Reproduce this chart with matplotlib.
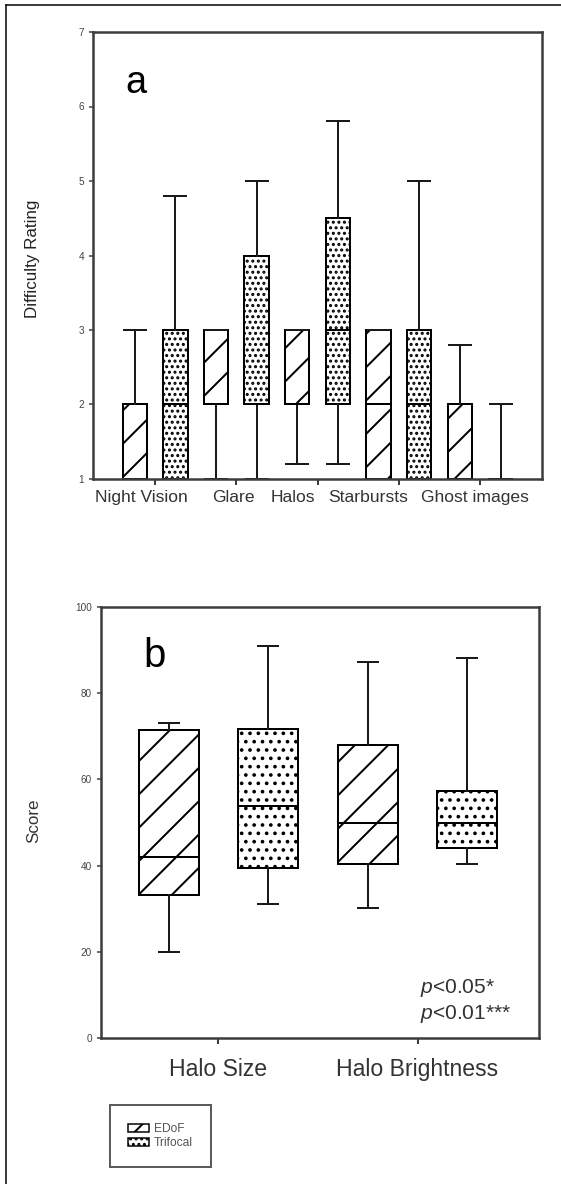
import numpy as np
import matplotlib
matplotlib.use("Agg")
import matplotlib.pyplot as plt
from matplotlib.patches import Patch
from matplotlib.lines import Line2D

W, H = 561, 1184
DPI = 100


def pt(px):
    # sizes below are measured in pixels of the reference
    return px * 72.0 / DPI


plt.rcParams['font.family'] = ['Liberation Sans', 'DejaVu Sans']
plt.rcParams['mathtext.fontset'] = 'custom'
plt.rcParams['mathtext.rm'] = 'Liberation Sans'
plt.rcParams['mathtext.it'] = 'Liberation Sans:italic'
plt.rcParams['hatch.linewidth'] = pt(2.0)

groups = ["EDoF", "Trifocal"]

# panel a - difficulty rating (1-7)
symptoms = ["Night Vision", "Glare", "Halos", "Starbursts", "Ghost images"]
edof_q1 = [1, 2, 2, 1, 1]
edof_med = [1, 2, 2, 2, 1]
edof_q3 = [2, 3, 3, 3, 2]
edof_lo = [1, 1, 1.2, 1, 1]
edof_hi = [3, 3, 3, 3, 2.8]
tri_q1 = [1, 2, 2, 1, 1]
tri_med = [2, 2, 3, 2, 1]
tri_q3 = [3, 4, 4.5, 3, 1]
tri_lo = [1, 1, 1.2, 1, 1]
tri_hi = [4.8, 5, 5.8, 5, 2]

# panel b - halo score (0-100)
halo_cats = ["Halo Size", "Halo Brightness"]
b_edof_q1 = [33.2, 40.4]
b_edof_med = [42.1, 50]
b_edof_q3 = [71.4, 68]
b_edof_lo = [20, 30.1]
b_edof_hi = [73.2, 87.2]
b_tri_q1 = [39.5, 44]
b_tri_med = [53.9, 50]
b_tri_q3 = [71.6, 57.2]
b_tri_lo = [31, 40.4]
b_tri_hi = [90.9, 88.1]

p_notes = ["$\\it{p}$<0.05*", "$\\it{p}$<0.01***"]

# label placement in the original is a bit off the ticks
a_label_shift = [-0.17, -0.04, -0.30, -0.38, -0.06]

SPINE = '#3c3c3c'


def stats(q1, med, q3, lo, hi):
    return [dict(q1=a, med=b, q3=c, whislo=d, whishi=e, fliers=[])
            for a, b, c, d, e in zip(q1, med, q3, lo, hi)]


def draw_boxes(ax, st, pos, hatch, capw):
    ax.bxp(st, positions=pos, widths=0.3, capwidths=capw, patch_artist=True,
           showfliers=False, manage_ticks=False,
           boxprops=dict(facecolor='white', edgecolor='black', linewidth=pt(2), hatch=hatch),
           whiskerprops=dict(color='#1a1a1a', linewidth=pt(2)),
           capprops=dict(color='#1a1a1a', linewidth=pt(2)),
           medianprops=dict(color='black', linewidth=pt(2)))


def style_axes(ax):
    for s in ax.spines.values():
        s.set_color(SPINE)
        s.set_linewidth(pt(2.5))
    ax.tick_params(axis='y', length=pt(4), width=pt(1.5), color=SPINE,
                   labelsize=pt(10), labelcolor='#444444', pad=pt(5))
    ax.tick_params(axis='x', which='major', length=pt(6), width=pt(2), color=SPINE)


fig = plt.figure(figsize=(W / DPI, H / DPI), dpi=DPI)

# ---- panel a
axa = fig.add_axes([93 / W, 1 - 479 / H, 449 / W, 447 / H])
xa = np.arange(1, len(symptoms) + 1)
draw_boxes(axa, stats(edof_q1, edof_med, edof_q3, edof_lo, edof_hi), xa - 0.25, '/', 0.27)
draw_boxes(axa, stats(tri_q1, tri_med, tri_q3, tri_lo, tri_hi), xa + 0.25, '...', 0.27)
axa.set_xlim(0.237, 5.76)
axa.set_ylim(1, 7)
axa.set_yticks(range(1, 8))
axa.set_xticks(xa, [""] * len(xa))
axa.set_xticks(xa + np.array(a_label_shift), symptoms, minor=True)
style_axes(axa)
axa.tick_params(axis='x', which='minor', length=0, pad=pt(11), labelsize=pt(17.5), labelcolor='#333333')

fig.text(136 / W, 1 - 93 / H, "a", fontsize=pt(38), ha='center', va='baseline')
fig.text(33 / W, 1 - 259 / H, "Difficulty Rating", rotation=90, fontsize=pt(17),
         ha='center', va='center', color='#222222')

# ---- panel b
axb = fig.add_axes([101 / W, 1 - 1038 / H, 438 / W, 431 / H])
xb = np.arange(1, len(halo_cats) + 1)
draw_boxes(axb, stats(b_edof_q1, b_edof_med, b_edof_q3, b_edof_lo, b_edof_hi), xb - 0.25, '/', 0.1)
draw_boxes(axb, stats(b_tri_q1, b_tri_med, b_tri_q3, b_tri_lo, b_tri_hi), xb + 0.25, '..', 0.1)
axb.set_xlim(0.41, 2.61)
axb.set_ylim(0, 100)
axb.set_yticks(range(0, 101, 20))
axb.set_xticks(xb, halo_cats)
style_axes(axb)
axb.tick_params(axis='x', which='major', pad=pt(14), labelsize=pt(23), labelcolor='#333333')

fig.text(154 / W, 1 - 667 / H, "b", fontsize=pt(40), ha='center', va='baseline')
fig.text(34 / W, 1 - 821 / H, "Score", rotation=90, fontsize=pt(17),
         ha='center', va='center', color='#333333')
fig.text(420 / W, 1 - 993 / H, p_notes[0], fontsize=pt(21), ha='left', va='baseline', color='#333333')
fig.text(420 / W, 1 - 1019 / H, p_notes[1], fontsize=pt(21), ha='left', va='baseline', color='#333333')

# legend below panel b
handles = [Patch(facecolor='white', edgecolor='black', hatch='/', linewidth=pt(1.5)),
           Patch(facecolor='white', edgecolor='black', hatch='...', linewidth=pt(1.5))]
leg = fig.legend(handles, groups, loc='upper left', bbox_to_anchor=(110 / W, 1 - 1105 / H),
                 bbox_transform=fig.transFigure, fontsize=pt(12), frameon=True, fancybox=False,
                 edgecolor='#333333', borderpad=1.5, labelspacing=0.2, handlelength=1.75,
                 handleheight=0.6, handletextpad=0.4, borderaxespad=0)
leg.get_frame().set_linewidth(pt(2))
for t in leg.get_texts():
    t.set_color('#555555')

# outer frame (top and left edges only)
fig.add_artist(Line2D([6 / W, 1], [1 - 5 / H, 1 - 5 / H], transform=fig.transFigure,
                      color='black', linewidth=pt(1.5)))
fig.add_artist(Line2D([6 / W, 6 / W], [0, 1 - 5 / H], transform=fig.transFigure,
                      color='black', linewidth=pt(1.5)))

fig.savefig("out.png", dpi=DPI, facecolor='white')
